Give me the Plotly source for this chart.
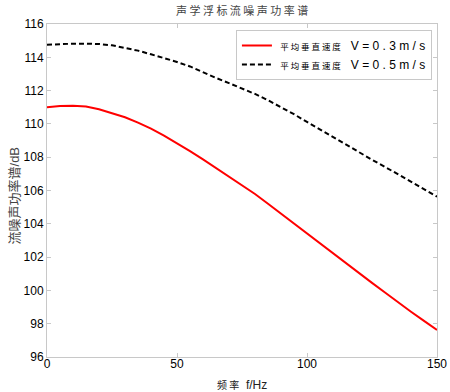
import plotly.graph_objects as go

freq = [0, 5, 10, 15, 20, 25, 30, 35, 40, 45, 50, 55, 60, 65, 70, 75, 80, 85, 90, 95,
        100, 105, 110, 115, 120, 125, 130, 135, 140, 145, 150]
v03 = [111.00, 111.07, 111.09, 111.05, 110.88, 110.65, 110.40, 110.08, 109.72, 109.30,
       108.85, 108.37, 107.87, 107.36, 106.84, 106.32, 105.79, 105.20, 104.60, 104.00,
       103.40, 102.80, 102.22, 101.63, 101.03, 100.45, 99.87, 99.28, 98.72, 98.17, 97.62]
v05 = [114.75, 114.79, 114.82, 114.82, 114.80, 114.72, 114.58, 114.40, 114.18, 113.97,
       113.72, 113.45, 113.10, 112.76, 112.45, 112.13, 111.80, 111.42, 111.02, 110.58,
       110.12, 109.66, 109.22, 108.78, 108.30, 107.85, 107.42, 106.98, 106.55, 106.10, 105.63]

x_ticks = [0, 50, 100, 150]
y_ticks = [96, 98, 100, 102, 104, 106, 108, 110, 112, 114, 116]

NB = "\u00a0"
cjk = "Noto Sans CJK SC"
latin = "Liberation Sans"


def cjk_span(s, size, sep=NB):
    return f'<span style="font-family:{cjk};font-size:{size}px">{sep.join(s)}</span>'


title_text = cjk_span("声学浮标流噪声功率谱", 11)
x_title = cjk_span("频率", 10) + NB * 2 + "f/Hz"
y_title = cjk_span("流噪声功率谱", 13, sep="") + "/dB"
name03 = NB + cjk_span("平均垂直速度", 8.5) + NB * 3 + NB.join("V=0.3m/s")
name05 = NB + cjk_span("平均垂直速度", 8.5) + NB * 3 + NB.join("V=0.5m/s")

fig = go.Figure()
fig.add_trace(go.Scatter(x=freq, y=v03, mode="lines", name=name03,
                         line=dict(color="#ff0000", width=2)))
fig.add_trace(go.Scatter(x=freq, y=v05, mode="lines", name=name05,
                         line=dict(color="#000000", width=2, dash="5px,3px")))

axis_common = dict(showline=True, linecolor="#c8c8c8", linewidth=1, mirror="ticks",
                   ticks="inside", ticklen=4, tickcolor="#c8c8c8", showgrid=False,
                   zeroline=False, automargin=False,
                   tickfont=dict(family=latin, size=12, color="#000000"))

fig.update_layout(
    width=450, height=392,
    margin=dict(l=47, r=13, t=24, b=35),
    paper_bgcolor="white", plot_bgcolor="white",
    xaxis=dict(range=[0, 150], tickvals=x_ticks, ticklabelstandoff=-4, **axis_common),
    yaxis=dict(range=[96, 116], tickvals=y_ticks, **axis_common),
    legend=dict(x=0.987, xanchor="right", y=0.982, yanchor="top",
                bgcolor="white", bordercolor="#c8c8c8", borderwidth=1,
                font=dict(family=latin, size=12, color="#000000"),
                tracegroupgap=0, itemwidth=30),
    showlegend=True,
    annotations=[
        dict(text=title_text, xref="paper", yref="paper", x=0.5, y=1.0, yshift=14,
             xanchor="center", yanchor="middle", showarrow=False,
             font=dict(family=cjk, size=11, color="#444444")),
        dict(text=x_title, xref="paper", yref="paper", x=0.5, y=0.0, yshift=-27,
             xanchor="center", yanchor="middle", showarrow=False,
             font=dict(family=latin, size=12, color="#222222")),
        dict(text=y_title, xref="paper", yref="paper", x=0.0, xshift=-34, y=0.5,
             yshift=-5, xanchor="center", yanchor="middle", showarrow=False,
             textangle=-90, font=dict(family=latin, size=13, color="#444444")),
    ],
)

fig.write_html("out.html", config={"displayModeBar": False},
               post_script="document.body.style.margin='0';document.body.style.padding='0';")
